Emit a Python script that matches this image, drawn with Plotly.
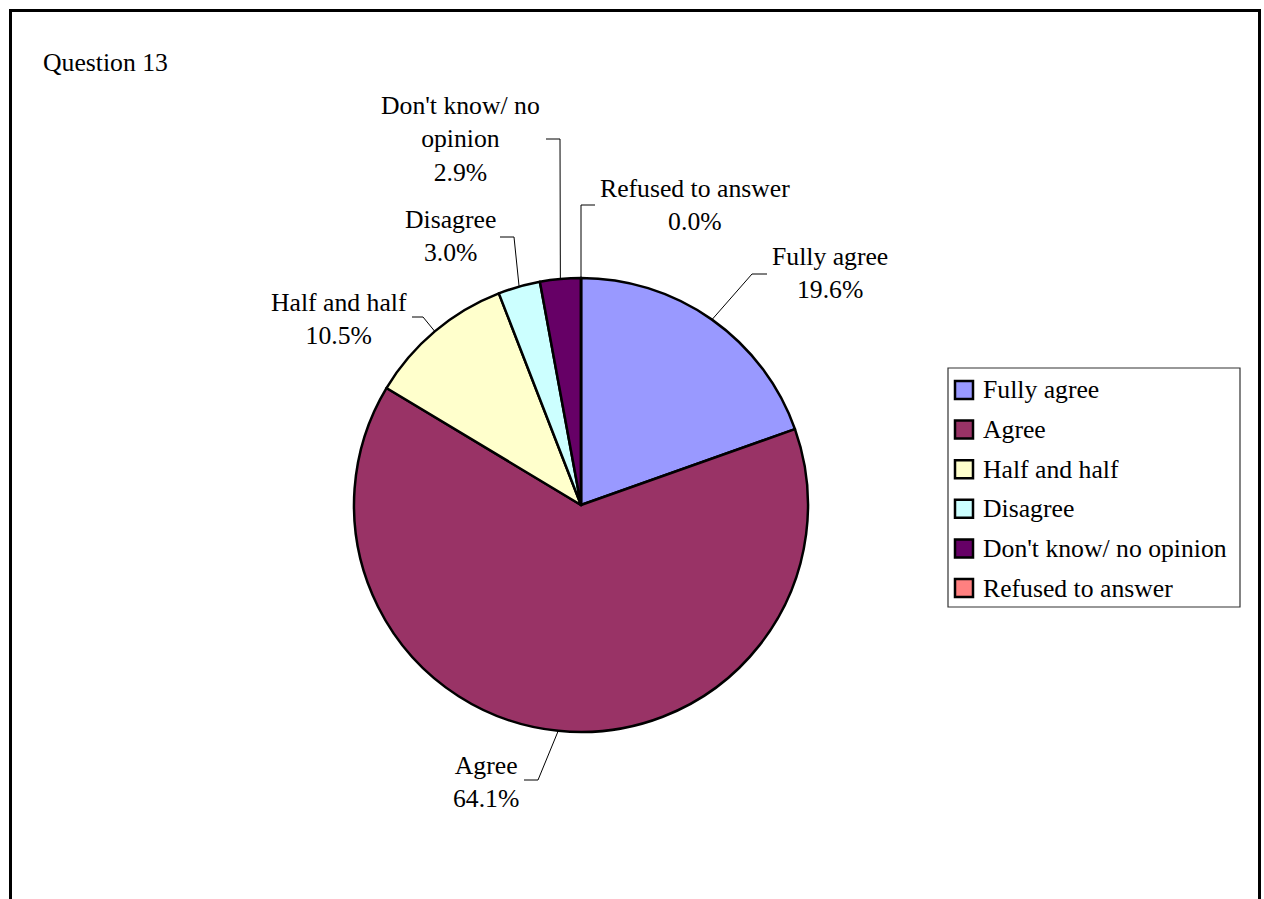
import math
import plotly.graph_objects as go

# ---------------- data ----------------
categories = ["Fully agree", "Agree", "Half and half", "Disagree",
              "Don't know/ no opinion", "Refused to answer"]
values = [19.6, 64.1, 10.5, 3.0, 2.9, 0.0]
colors = ["#9999FF", "#993366", "#FFFFCC", "#CCFFFF", "#660066", "#FF8080"]
title_text = "Question 13"
label_wrap = {"Don't know/ no opinion": "Don't know/ no<br>opinion"}

# ---------------- layout constants (pixels) ----------------
W, H = 1264, 899
CX, CY, R = 581, 505, 227
FONT = dict(family="Liberation Serif, Times New Roman, serif", size=25.7, color="black")

# label placement: label centre, elbow point, tail end (all px)
label_layout = {
    "Fully agree": dict(c=(830, 273), elbow=(752, 274), tail=(767, 274)),
    "Agree": dict(c=(486, 782), elbow=(538, 780), tail=(524, 780)),
    "Half and half": dict(c=(339, 319), elbow=(423, 317), tail=(412, 317)),
    "Disagree": dict(c=(450, 236), elbow=(514, 237), tail=(500, 237)),
    "Don't know/ no opinion": dict(c=(460, 139), elbow=(560, 139), tail=(546, 139)),
    "Refused to answer": dict(c=(695, 205), elbow=(581, 205), tail=(595, 205)),
}

LEG_BOX = (948, 368, 1240, 607)
LEG_ROW0, LEG_PITCH = 390, 39.6
LEG_SQ_X, LEG_SQ = 964, 18
LEG_TXT_X = 981


def px(x):
    return x / W


def py(y):
    return 1 - y / H


fig = go.Figure()
fig.add_trace(go.Pie(
    labels=categories, values=values, sort=False, direction="clockwise",
    rotation=0, textinfo="none", hoverinfo="skip", showlegend=False,
    marker=dict(colors=colors, line=dict(color="black", width=2.5)),
    domain=dict(x=[px(CX - R), px(CX + R)], y=[py(CY + R), py(CY - R)]),
))

shapes = []
annotations = []

# border of chart area
shapes.append(dict(type="rect", xref="paper", yref="paper",
                   x0=px(10.5), x1=px(1259.5), y0=py(920), y1=py(10.5),
                   line=dict(color="black", width=3), fillcolor="rgba(0,0,0,0)"))

# title
annotations.append(dict(text=title_text, x=px(41), y=py(62), xref="paper", yref="paper",
                        xanchor="left", yanchor="middle", showarrow=False, font=FONT))

# data labels with leader lines
total = sum(values)
cum = 0.0
for cat, v in zip(categories, values):
    mid = (cum + v / 2) / total
    cum += v
    th = 2 * math.pi * mid
    ex, ey = CX + R * math.sin(th), CY - R * math.cos(th)
    lay = label_layout[cat]
    (bx, by), (tx, ty) = lay["elbow"], lay["tail"]
    path = f"M {px(ex)},{py(ey)} L {px(bx)},{py(by)} L {px(tx)},{py(ty)}"
    shapes.append(dict(type="path", xref="paper", yref="paper", path=path,
                       line=dict(color="black", width=1)))
    txt = f"{label_wrap.get(cat, cat)}<br>{v:.1f}%"
    annotations.append(dict(text=txt, x=px(lay["c"][0]), y=py(lay["c"][1]),
                            xref="paper", yref="paper", xanchor="center",
                            yanchor="middle", showarrow=False, font=FONT))

# legend
x0, y0, x1, y1 = LEG_BOX
shapes.append(dict(type="rect", xref="paper", yref="paper",
                   x0=px(x0), x1=px(x1), y0=py(y1), y1=py(y0),
                   line=dict(color="#333333", width=1.2), fillcolor="white"))
for i, (cat, col) in enumerate(zip(categories, colors)):
    yc = LEG_ROW0 + i * LEG_PITCH
    shapes.append(dict(type="rect", xref="paper", yref="paper",
                       x0=px(LEG_SQ_X - LEG_SQ / 2), x1=px(LEG_SQ_X + LEG_SQ / 2),
                       y0=py(yc + LEG_SQ / 2), y1=py(yc - LEG_SQ / 2),
                       line=dict(color="black", width=2.5), fillcolor=col))
    annotations.append(dict(text=cat, x=px(LEG_TXT_X), y=py(yc), xref="paper", yref="paper",
                            xanchor="left", yanchor="middle", showarrow=False, font=FONT))

fig.update_layout(width=W, height=H, margin=dict(l=0, r=0, t=0, b=0),
                  paper_bgcolor="white", plot_bgcolor="white",
                  shapes=shapes, annotations=annotations, showlegend=False)
fig.write_html("out.html", config={"displayModeBar": False},
               post_script="document.body.style.margin='0';"
                           "document.body.style.overflow='hidden';")
